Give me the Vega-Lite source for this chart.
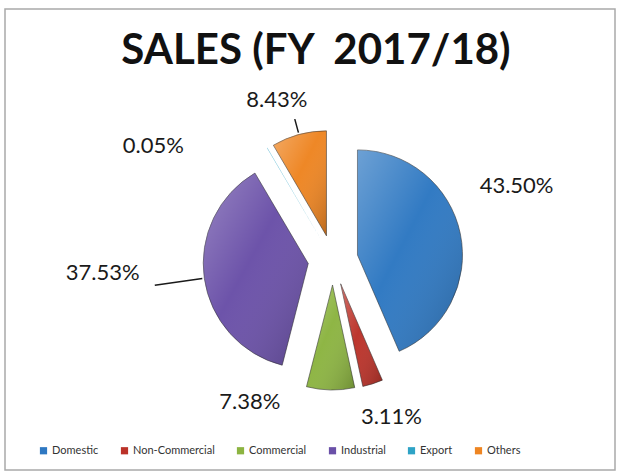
{
  "$schema": "https://vega.github.io/schema/vega-lite/v6.json",
  "width": 610,
  "height": 461,
  "autosize": {"type": "none"},
  "padding": {"left": 5, "top": 9, "right": 12, "bottom": 6},
  "background": "white",
  "view": {"stroke": "#a9a9a9", "strokeWidth": 1.5},
  "config": {
    "view": {"stroke": "#a9a9a9", "strokeWidth": 1.5},
    "font": "Lato"
  },
  "title": {
    "text": "SALES (FY\u00a0 2017/18)",
    "font": "Lato",
    "fontSize": 42,
    "fontWeight": "bold",
    "color": "#111111",
    "anchor": "middle",
    "frame": "group",
    "baseline": "alphabetic",
    "offset": -54,
    "dx": 6,
    "dy": 43
  },
  "data": {
    "values": [
      {"rank": 1, "category": "Domestic", "share": 0.4350},
      {"rank": 2, "category": "Non-Commercial", "share": 0.0311},
      {"rank": 3, "category": "Commercial", "share": 0.0738},
      {"rank": 4, "category": "Industrial", "share": 0.3753},
      {"rank": 5, "category": "Export", "share": 0.0005},
      {"rank": 6, "category": "Others", "share": 0.0843}
    ]
  },
  "encoding": {
    "theta": {"field": "share", "type": "quantitative", "stack": true},
    "order": {"field": "rank", "type": "quantitative"}
  },
  "layer": [
    {
      "mark": {
        "type": "arc",
        "outerRadius": 105,
        "stroke": "#2a2a2a",
        "strokeWidth": 1,
        "x": {"expr": "width / 2 + 23 + 25 * sin(PI * (datum.share_start + datum.share_end))"},
        "y": {"expr": "height / 2 + 20.5 - 25 * cos(PI * (datum.share_start + datum.share_end))"}
      },
      "encoding": {
        "color": {
          "field": "category",
          "type": "nominal",
          "sort": ["Domestic", "Non-Commercial", "Commercial", "Industrial", "Export", "Others"],
          "scale": {
            "domain": ["Domestic", "Non-Commercial", "Commercial", "Industrial", "Export", "Others"],
            "range": ["#2e78c2", "#bb3229", "#8cb441", "#6a50a8", "#2ea3c6", "#ee8522"]
          },
          "legend": {
            "title": null,
            "orient": "none",
            "direction": "horizontal",
            "columns": 6,
            "legendX": 33,
            "legendY": 436,
            "symbolType": "square",
            "symbolSize": 52,
            "symbolStrokeWidth": 0,
            "labelFont": "Lato",
            "labelFontSize": 11,
            "labelColor": "#333333",
            "labelOffset": 3,
            "columnPadding": 20
          }
        },
        "strokeOpacity": {
          "condition": {"test": "datum.category === 'Export'", "value": 0},
          "value": 0.55
        }
      }
    },
    {
      "mark": {
        "type": "arc",
        "outerRadius": 105,
        "strokeWidth": 0,
        "fill": {
          "gradient": "linear",
          "x1": 0, "y1": 0, "x2": 1, "y2": 1,
          "stops": [
            {"offset": 0, "color": "rgba(255,255,255,0.30)"},
            {"offset": 0.45, "color": "rgba(255,255,255,0.02)"},
            {"offset": 1, "color": "rgba(0,0,0,0.22)"}
          ]
        },
        "x": {"expr": "width / 2 + 23 + 25 * sin(PI * (datum.share_start + datum.share_end))"},
        "y": {"expr": "height / 2 + 20.5 - 25 * cos(PI * (datum.share_start + datum.share_end))"}
      }
    },
    {
      "mark": {
        "type": "arc",
        "innerRadius": 107,
        "outerRadius": 155,
        "padAngle": 3,
        "fill": null,
        "stroke": "#1a1a1a",
        "strokeWidth": 1.5,
        "x": {"expr": "width / 2 + 23 + 25 * sin(PI * (datum.share_start + datum.share_end))"},
        "y": {"expr": "height / 2 + 20.5 - 25 * cos(PI * (datum.share_start + datum.share_end))"}
      },
      "encoding": {
        "strokeOpacity": {
          "condition": {"test": "datum.category === 'Industrial'", "value": 1},
          "value": 0
        }
      }
    },
    {
      "mark": {
        "type": "arc",
        "innerRadius": 107,
        "outerRadius": 121,
        "padAngle": 3,
        "fill": null,
        "stroke": "#1a1a1a",
        "strokeWidth": 1.5,
        "x": {"expr": "width / 2 + 23 + 25 * sin(PI * (datum.share_start + datum.share_end))"},
        "y": {"expr": "height / 2 + 20.5 - 25 * cos(PI * (datum.share_start + datum.share_end))"}
      },
      "encoding": {
        "strokeOpacity": {
          "condition": {"test": "datum.category === 'Others'", "value": 1},
          "value": 0
        }
      }
    },
    {
      "mark": {
        "type": "text",
        "radius": 165,
        "font": "Lato",
        "fontSize": 22,
        "color": "#1a1a1a",
        "align": "center",
        "baseline": "middle",
        "x": {"expr": "width / 2 + 23"},
        "y": {"expr": "height / 2 + 20.5"},
        "dx": {"expr": "[22, 8, -80, -67, -96, -13][datum.rank - 1]"},
        "dy": {"expr": "[-41, 0, -23, -10, 28, -1][datum.rank - 1]"}
      },
      "encoding": {
        "text": {"field": "share", "type": "quantitative", "format": ".2%"}
      }
    }
  ]
}
